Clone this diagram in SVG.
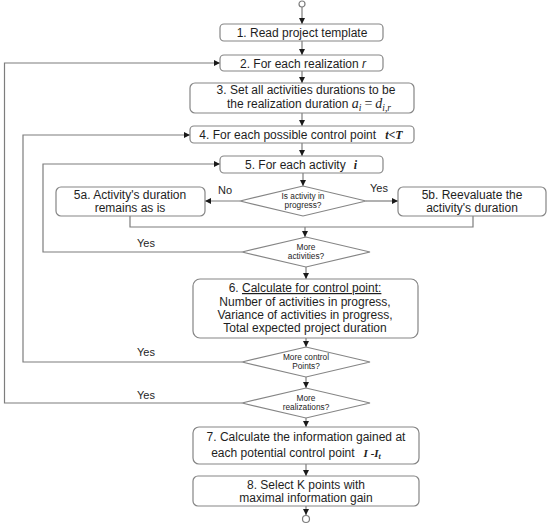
<svg xmlns="http://www.w3.org/2000/svg" width="550" height="526" viewBox="0 0 550 526">
<defs>
<marker id="ah" markerUnits="userSpaceOnUse" markerWidth="7" markerHeight="6" refX="6" refY="3" orient="auto">
<path d="M0,0 L6,3 L0,6 z" fill="#1a1a1a"/>
</marker>
<style>
.box{fill:#fff;stroke:#858585;stroke-width:1.2}
.dia{fill:#fff;stroke:#858585;stroke-width:1.2}
.t{font-family:"Liberation Sans",Arial,sans-serif;font-size:12px;fill:#1e1e1e;text-anchor:middle}
.s{font-family:"Liberation Sans",Arial,sans-serif;font-size:8.3px;fill:#1e1e1e;text-anchor:middle}
.lbl{font-family:"Liberation Sans",Arial,sans-serif;font-size:11px;fill:#1e1e1e;text-anchor:middle}
.m{font-family:"Liberation Serif","Times New Roman",serif;font-style:italic}
.mb{font-family:"Liberation Serif","Times New Roman",serif;font-style:italic;font-weight:bold}
.c{fill:none;stroke:#7d7d7d;stroke-width:1.2}
.ca{fill:none;stroke:#7d7d7d;stroke-width:1.2;marker-end:url(#ah)}
</style>
</defs>
<rect width="550" height="526" fill="#fff"/>
<g id="connectors">
<circle cx="302" cy="4" r="3" class="c"/>
<line x1="302" y1="7" x2="302" y2="24" class="ca"/>
<line x1="302" y1="41" x2="302" y2="55" class="ca"/>
<line x1="302" y1="71" x2="302" y2="83" class="ca"/>
<line x1="302" y1="113" x2="302" y2="126" class="ca"/>
<line x1="302" y1="143" x2="302" y2="156" class="ca"/>
<line x1="303" y1="173" x2="303" y2="186" class="ca"/>
<line x1="240" y1="201" x2="205" y2="201" class="ca"/>
<line x1="366" y1="201" x2="398" y2="201" class="ca"/>
<polyline points="130,216 130,227 473,227 473,216" class="c"/>
<line x1="305" y1="227" x2="305" y2="237" class="ca"/>
<polyline points="242,252 43,252 43,164 220,164" class="ca"/>
<line x1="306" y1="267" x2="306" y2="279" class="ca"/>
<line x1="306" y1="338" x2="306" y2="347" class="ca"/>
<polyline points="242,362 23,362 23,135 190,135" class="ca"/>
<line x1="306" y1="377" x2="306" y2="388" class="ca"/>
<polyline points="242,403 4.5,403 4.5,63 220,63" class="ca"/>
<line x1="306" y1="418" x2="306" y2="427" class="ca"/>
<line x1="306" y1="464" x2="306" y2="476" class="ca"/>
<line x1="306" y1="506" x2="306" y2="515" class="ca"/>
<circle cx="306" cy="519" r="3.5" class="c"/>
<text x="225" y="194" class="lbl">No</text>
<text x="379" y="192" class="lbl">Yes</text>
<text x="146" y="247" class="lbl">Yes</text>
<text x="146" y="356" class="lbl">Yes</text>
<text x="146" y="399" class="lbl">Yes</text>
</g>
<g id="n1">
<rect x="220" y="24" width="163" height="17" rx="4" class="box"/>
<text x="302" y="37" class="t">1. Read project template</text>
</g>
<g id="n2">
<rect x="220" y="55" width="163" height="16" rx="4" class="box"/>
<text x="303" y="67.5" class="t">2. For each realization <tspan font-style="italic">r</tspan></text>
</g>
<g id="n3">
<rect x="190" y="83" width="224" height="30" rx="5" class="box"/>
<text x="306" y="94" class="t">3. Set all activities durations to be</text>
<text x="309" y="108" class="t">the realization duration <tspan class="m" font-size="14">a</tspan><tspan class="m" font-size="9.5" dy="2.5">i</tspan><tspan font-family="Liberation Serif" font-size="14" dy="-2.5" dx="3">=</tspan><tspan class="m" font-size="14" dx="3">d</tspan><tspan class="m" font-size="9.5" dy="2.5">i,r</tspan></text>
</g>
<g id="n4">
<rect x="190" y="126" width="224" height="17" rx="4" class="box"/>
<text x="301" y="139" class="t">4. For each possible control point<tspan class="mb" font-size="12" dx="9">t&lt;T</tspan></text>
</g>
<g id="n5">
<rect x="220" y="156" width="163" height="17" rx="4" class="box"/>
<text x="301" y="169" class="t">5. For each activity<tspan class="mb" font-size="12" dx="8">i</tspan></text>
</g>
<g id="d1">
<polygon points="240,201 303,186 366,201 303,216" class="dia"/>
<text x="303" y="199" class="s">Is activity in</text>
<text x="303" y="207.5" class="s">progress?</text>
</g>
<g id="n5a">
<rect x="56" y="187" width="149" height="29" rx="5" class="box"/>
<text x="130" y="199" class="t">5a. Activity's duration</text>
<text x="130" y="212" class="t">remains as is</text>
</g>
<g id="n5b">
<rect x="398" y="187" width="148" height="29" rx="5" class="box"/>
<text x="472" y="199" class="t">5b. Reevaluate the</text>
<text x="472" y="212" class="t">activity's duration</text>
</g>
<g id="d2">
<polygon points="242,252 306,237 370,252 306,267" class="dia"/>
<text x="306" y="250" class="s">More</text>
<text x="306" y="258.5" class="s">activities?</text>
</g>
<g id="n6">
<rect x="193" y="279" width="225" height="59" rx="7" class="box"/>
<text x="305" y="292" class="t">6. <tspan text-decoration="underline">Calculate for control point:</tspan></text>
<text x="305" y="306" class="t">Number of activities in progress,</text>
<text x="305" y="319" class="t">Variance of activities in progress,</text>
<text x="305" y="332" class="t">Total expected project duration</text>
</g>
<g id="d3">
<polygon points="242,362 306,347 370,362 306,377" class="dia"/>
<text x="306" y="360" class="s">More control</text>
<text x="306" y="368.5" class="s">Points?</text>
</g>
<g id="d4">
<polygon points="242,403 306,388 370,403 306,418" class="dia"/>
<text x="306" y="401" class="s">More</text>
<text x="306" y="409.5" class="s">realizations?</text>
</g>
<g id="n7">
<rect x="193" y="427" width="226" height="37" rx="6" class="box"/>
<text x="306" y="441" class="t">7. Calculate the information gained at</text>
<text x="296" y="457" class="t">each potential control point<tspan class="mb" font-size="11" dx="9">I -I</tspan><tspan class="mb" font-size="8" dy="2">t</tspan></text>
</g>
<g id="n8">
<rect x="193" y="476" width="226" height="30" rx="5" class="box"/>
<text x="306" y="489" class="t">8. Select K points with</text>
<text x="306" y="502" class="t">maximal information gain</text>
</g>
</svg>
